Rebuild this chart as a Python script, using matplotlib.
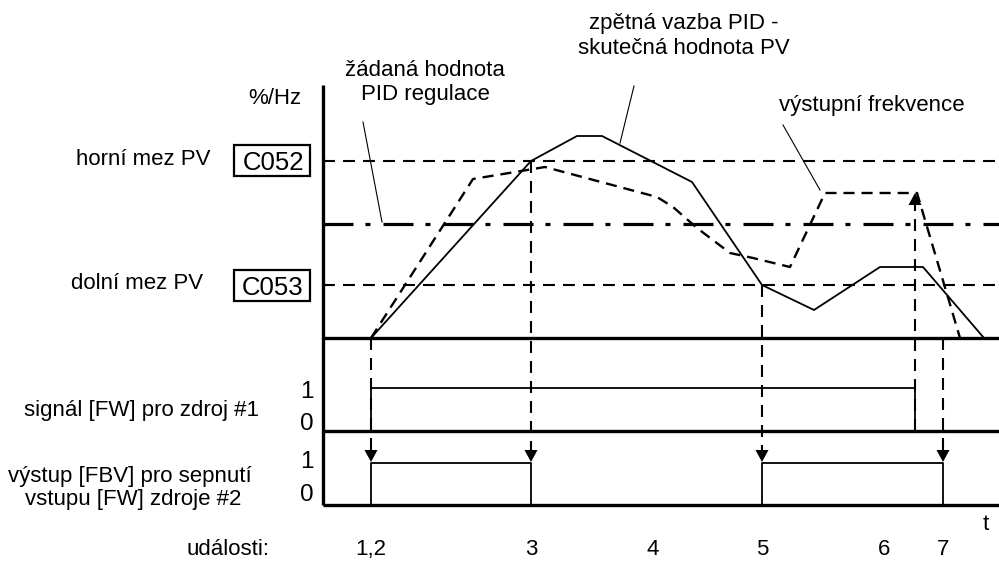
import numpy as np
import matplotlib
matplotlib.use('Agg')
import matplotlib.pyplot as plt

plt.rcParams['font.family'] = ['Liberation Sans', 'DejaVu Sans']
plt.rcParams['lines.scale_dashes'] = False

# everything is laid out in pixel units, y grows downwards
W, H = 999, 563

# levels of the analog panel
axis_x = 323
base_y = 338
upper_limit_y = 161   # C052
setpoint_y = 224
lower_limit_y = 285   # C053

# PID feedback (PV) - solid
pv_t = [371, 531, 577, 602, 692, 762, 814, 880, 923, 984]
pv_y = [338, 161, 136, 136, 182, 285, 310, 267, 267, 338]

# output frequency - dashed
freq_t = [371, 473, 527, 545, 657, 673, 697, 730, 753, 790, 825, 917, 960]
freq_y = [338, 179, 170, 167, 197, 207, 228, 253, 258, 267, 193, 193, 338]

# digital signals: level rows (high, low) and on/off edges
fw_high, fw_low = 388, 431
fbv_high, fbv_low = 463, 505
fw_on = [(371, 915)]
fbv_on = [(371, 531), (762, 943)]

# event markers (dashed arrows)
event_lines = [(371, 338, 462), (531, 161, 462), (762, 285, 462), (943, 338, 462), (915, 431, 193)]
event_labels = ['1,2', '3', '4', '5', '6', '7']
event_label_x = [371, 531, 653, 762, 884, 943]

fig = plt.figure(figsize=(W / 100, H / 100), dpi=100)
ax = fig.add_axes([0, 0, 1, 1])
ax.set_xlim(0, W)
ax.set_ylim(H, 0)
ax.axis('off')

fs = 16

def arrow_head(x, y_tip, up=False, w=6.5, h=12):
    d = h if up else -h
    ax.fill([x - w, x + w, x], [y_tip + d, y_tip + d, y_tip], color='black', lw=0, zorder=5)

# frame: vertical axis and the three base lines
ax.plot([axis_x, axis_x], [85, fbv_low], color='black', lw=2.4, solid_capstyle='butt')
for y in [base_y, fw_low, fbv_low]:
    ax.plot([axis_x, W], [y, y], color='black', lw=2.4, solid_capstyle='butt')

# limits and setpoint
for y in [upper_limit_y, lower_limit_y]:
    ax.plot([axis_x, W], [y, y], color='black', lw=1.5, dashes=(8.6, 5.8))
ax.plot([axis_x, W], [setpoint_y, setpoint_y], color='black', lw=2.3, dashes=(21.6, 8.6, 3.6, 9.4))

# curves
ax.plot(pv_t, pv_y, color='black', lw=1.3)
ax.plot(freq_t, freq_y, color='black', lw=1.7, dashes=(8, 5))

# event arrows
for x, y0, y1 in event_lines:
    up = y1 < y0
    y_end = y1 + 12 if up else y1 - 12
    ax.plot([x, x], [y0, y_end], color='black', lw=1.5, dashes=(8.6, 5.8))
    arrow_head(x, y1, up=up)

# digital signals
for t0, t1 in fw_on:
    ax.plot([t0, t0, t1, t1], [fw_low, fw_high, fw_high, fw_low], color='black', lw=1.3)
for t0, t1 in fbv_on:
    ax.plot([t0, t0, t1, t1], [fbv_low, fbv_high, fbv_high, fbv_low], color='black', lw=1.3)

# leader lines
ax.plot([363, 382], [122, 222], color='black', lw=0.8)
ax.plot([634, 620], [86, 143], color='black', lw=0.8)
ax.plot([783, 820], [125, 190], color='black', lw=0.8)

# parameter boxes
for y0, code in [(145, 'C052'), (270, 'C053')]:
    ax.add_patch(plt.Rectangle((234, y0), 76, 31, fill=False, lw=1.6, ec='black'))
    ax.text(273, y0 + 25, code, fontsize=18.5, ha='center', va='baseline')

# labels
ax.text(143, 165, 'horní mez PV', fontsize=fs, ha='center', va='baseline')
ax.text(137, 289, 'dolní mez PV', fontsize=fs, ha='center', va='baseline')
ax.text(275, 104, '%/Hz', fontsize=fs, ha='center', va='baseline')
ax.text(425, 76, 'žádaná hodnota', fontsize=fs, ha='center', va='baseline')
ax.text(425, 100, 'PID regulace', fontsize=fs, ha='center', va='baseline')
ax.text(684, 29, 'zpětná vazba PID -', fontsize=fs, ha='center', va='baseline')
ax.text(684, 54, 'skutečná hodnota PV', fontsize=fs, ha='center', va='baseline')
ax.text(872, 111, 'výstupní frekvence', fontsize=fs, ha='center', va='baseline')

ax.text(142, 416, 'signál [FW] pro zdroj #1', fontsize=fs, ha='center', va='baseline')
ax.text(130, 482, 'výstup [FBV] pro sepnutí', fontsize=fs, ha='center', va='baseline')
ax.text(133, 505, 'vstupu [FW] zdroje #2', fontsize=fs, ha='center', va='baseline')

for y, s in [(398, '1'), (430, '0'), (468, '1'), (501, '0')]:
    ax.text(307, y, s, fontsize=17.5, ha='center', va='baseline')

ax.text(986, 530, 't', fontsize=fs, ha='center', va='baseline')
ax.text(270, 555, 'události:', fontsize=fs, ha='right', va='baseline')
for x, s in zip(event_label_x, event_labels):
    ax.text(x, 555, s, fontsize=fs, ha='center', va='baseline')

fig.savefig('out.png', dpi=100)
